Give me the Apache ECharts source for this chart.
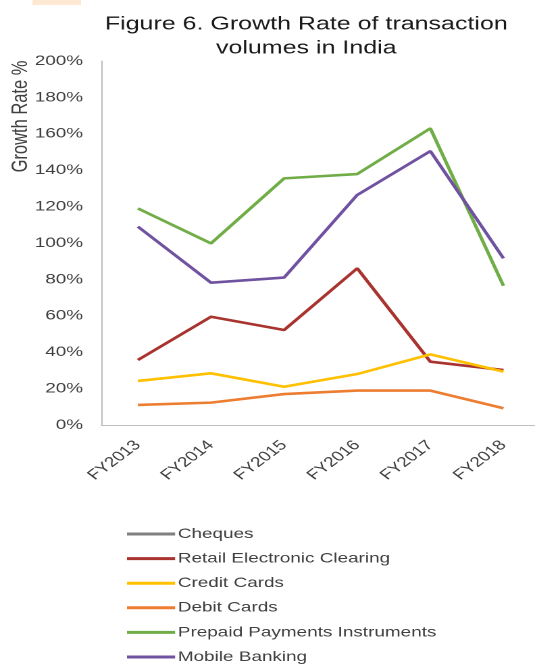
<!DOCTYPE html>
<html>
<head>
<meta charset="utf-8">
<script src="https://cdn.jsdelivr.net/npm/echarts@6/dist/echarts.min.js"></script>
<style>
html,body{margin:0;padding:0;background:#fff;overflow:hidden;}
#c{width:396px;height:664px;transform-origin:0 0;transform:scaleX(1.351);}
</style>
</head>
<body>
<div id="c"></div>
<script>
const categories = ['FY2013','FY2014','FY2015','FY2016','FY2017','FY2018'];
const cheques = [null, null, null, null, null, null];
const retailElectronicClearing = [35.7, 59.5, 52.2, 86.1, 34.8, 30.2];
const creditCards = [24.2, 28.4, 21.0, 28.0, 38.8, 29.3];
const debitCards = [11.0, 12.3, 17.0, 18.9, 18.9, 9.2];
const prepaidPayments = [119.0, 99.8, 135.5, 137.9, 163.0, 76.5];
const mobileBanking = [109.0, 78.2, 81.0, 126.4, 150.5, 91.6];
const seriesNames = ['Cheques','Retail Electronic Clearing','Credit Cards','Debit Cards','Prepaid Payments Instruments','Mobile Banking'];
const seriesColors = ['#808080','#a9342f','#ffc000','#ed7d31','#70ad47','#7052a0'];
const seriesData = [cheques, retailElectronicClearing, creditCards, debitCards, prepaidPayments, mobileBanking];

const font = '"Liberation Sans", Arial, sans-serif';
const chart = echarts.init(document.getElementById('c'), null, {renderer:'canvas', devicePixelRatio:2});
chart.setOption({
  animation: false,
  backgroundColor: '#ffffff',
  textStyle: {fontFamily: font},
  graphic: [
    {type:'rect', shape:{x:24,y:0,width:36,height:5}, style:{fill:'#fde9d3'}, silent:true},
    {type:'text', x:226.7, y:24.4, style:{text:'Figure 6. Growth Rate of transaction', font:'18.5px ' + font, fill:'#1a1a1a', textAlign:'center', textVerticalAlign:'middle'}},
    {type:'text', x:226.7, y:48.4, style:{text:'volumes in India', font:'18.5px ' + font, fill:'#1a1a1a', textAlign:'center', textVerticalAlign:'middle'}},
    {type:'text', x:15.5, y:116.5, rotation:Math.PI/2, style:{text:'Growth Rate %', font:'16.5px ' + font, fill:'#404040', textAlign:'center', textVerticalAlign:'middle'}}
  ],
  grid: {left:75, top:61, width:324.7, height:364, outerBoundsMode:'none', containLabel:false},
  legend: {
    orient:'vertical', left:94, top:527, height:200, padding:0, icon:'rect', itemWidth:35.6, itemHeight:3, itemGap:10.6,
    textStyle:{fontSize:14, color:'#404040', fontFamily:font, lineHeight:14, padding:[0,0,0,-3]},
    data: seriesNames
  },
  xAxis: {
    type:'category', data:categories, boundaryGap:true,
    axisLine:{lineStyle:{color:'#bfbfbf', width:1}}, axisTick:{show:false},
    axisLabel:{rotate:45, margin:18, fontSize:14, color:'#404040', fontFamily:font, interval:0}
  },
  yAxis: {
    type:'value', min:0, max:200, interval:20,
    axisLine:{show:true, lineStyle:{color:'#bfbfbf', width:1}}, axisTick:{show:false},
    splitLine:{show:false},
    axisLabel:{formatter:'{value}%', margin:13.5, fontSize:14, color:'#404040', fontFamily:font}
  },
  series: seriesNames.map((n,i)=>({
    name:n, type:'line', data:seriesData[i], symbol:'none', smooth:false,
    lineStyle:{color:seriesColors[i], width:2.6}, itemStyle:{color:seriesColors[i]}
  }))
});
</script>
</body>
</html>
